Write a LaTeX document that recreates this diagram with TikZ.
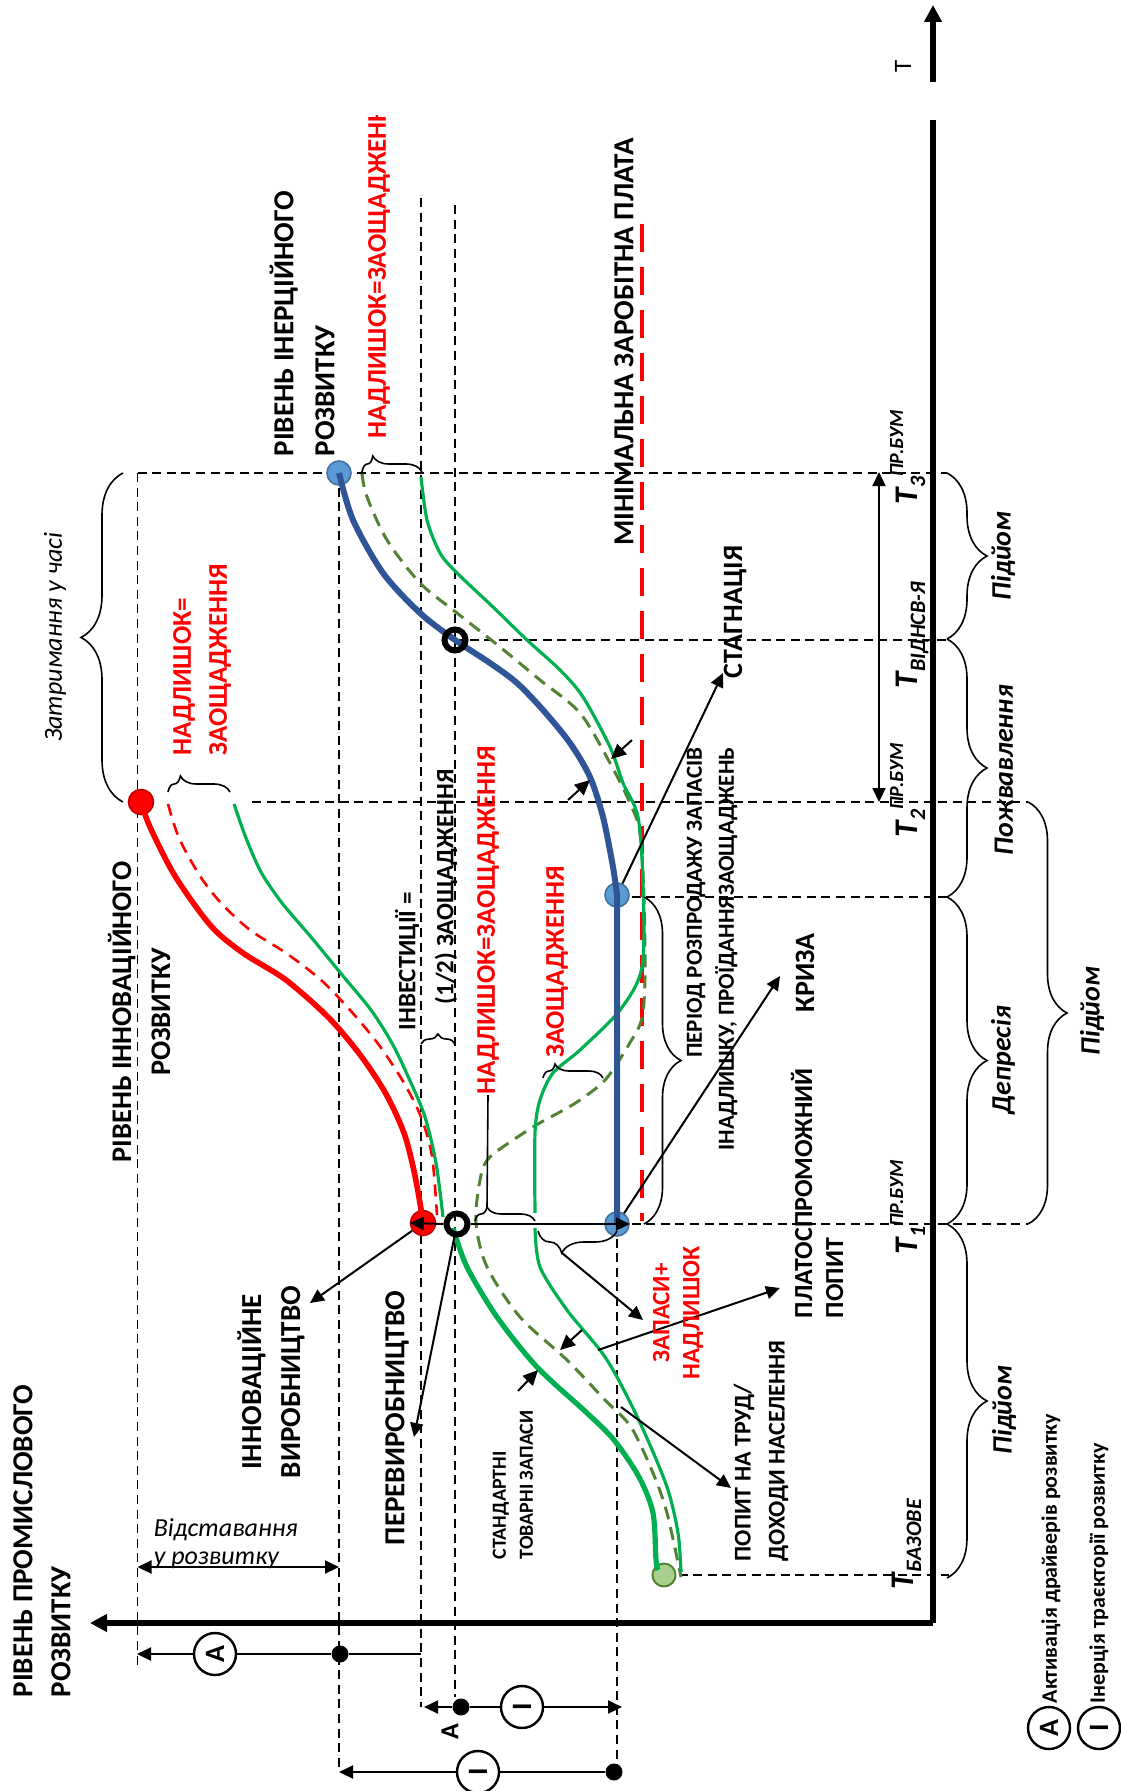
\documentclass[tikz,border=0pt]{standalone}
\usepackage{fontspec}
\setmainfont{Carlito}
\usetikzlibrary{arrows.meta,decorations.pathreplacing}

\definecolor{cRed}{RGB}{255,0,0}
\definecolor{cDarkRed}{RGB}{192,0,0}
\definecolor{cGreen}{RGB}{0,176,80}
\definecolor{cOlive}{RGB}{84,130,53}
\definecolor{cBlue}{RGB}{47,85,151}
\definecolor{cDotBlue}{RGB}{91,155,213}
\definecolor{cDotBlueLine}{RGB}{65,113,156}
\definecolor{cDotGreen}{RGB}{169,209,142}

\newcommand{\Tlab}[2]{\textit{T}\raisebox{-4pt}{\fontsize{11}{11}\selectfont #1}\raisebox{7pt}{\fontsize{10}{10}\selectfont #2}}

\tikzset{every picture/.style={line width=0.75pt}}
\tikzset{
  guide/.style={line width=0.8pt, dash pattern=on 4.5pt off 2.8pt},
  axisline/.style={line width=3pt},
  arr/.style={line width=1pt, -{Triangle[length=7pt,width=6.5pt]}},
  darr/.style={line width=1pt, {Triangle[length=7pt,width=6.5pt]}-{Triangle[length=7pt,width=6.5pt]}},
  smallarr/.style={line width=1pt, -{Triangle[length=7.5pt,width=7pt]}},
  curly/.style={line width=0.8pt, decorate, decoration={brace, amplitude=#1}},
  lbl/.style={inner sep=0pt, rotate=90, font=\bfseries\fontsize{14.5}{19}\selectfont},
  redlbl/.style={lbl, text=cRed, font=\bfseries\fontsize{13.5}{18}\selectfont},
  period/.style={inner sep=0pt, rotate=90, font=\bfseries\itshape\fontsize{14}{17}\selectfont},
  tlabel/.style={inner sep=0pt, rotate=90, anchor=base west, font=\bfseries\itshape\fontsize{16.5}{18}\selectfont},
  reddot/.style={circle, fill=cRed, draw=cDarkRed, line width=0.8pt, minimum size=12.5pt, inner sep=0pt},
  bluedot/.style={circle, fill=cDotBlue, draw=cDotBlueLine, line width=0.8pt, minimum size=12pt, inner sep=0pt},
  greendot/.style={circle, fill=cDotGreen, draw=cOlive, line width=1pt, minimum size=11.5pt, inner sep=0pt},
  ring/.style={circle, draw=black, line width=3pt, minimum size=10.5pt, inner sep=0pt},
  bdot/.style={circle, fill=black, minimum size=8.5pt, inner sep=0pt},
  letcirc/.style={circle, draw, fill=white, line width=1.2pt, minimum size=21pt, inner sep=0pt, rotate=90, font=\bfseries\fontsize{14}{14}\selectfont}
}

\begin{document}
\begin{tikzpicture}[x=0.5pt,y=0.5pt,yscale=-1,xscale=1]
\useasboundingbox (0,0) rectangle (1120,1791);

%Dashed guides
\draw[guide] (137.5,473) -- (947,473);
\draw[guide] (137.5,473) -- (137.5,1667);
\draw[guide] (339,473) -- (339,1772);
\draw[guide] (421,198) -- (421,1707);
\draw[guide] (455,205) -- (455,1697);
\draw[guide] (455,640) -- (947,640);
\draw[guide] (252,802) -- (1028,802);
\draw[guide] (617,897) -- (947,897);
\draw[guide] (617,1224) -- (617,1772);
\draw[guide] (617,1224) -- (1028,1224);
\draw[guide] (664,1575) -- (949,1575);

%Axes
\coordinate (O) at (933,1623);
\draw[axisline, -{Triangle[length=8.5pt,width=8.5pt]}] (O) -- (90,1623);
\draw[axisline] (O) -- (933,120);
\draw[axisline, -{Triangle[length=8.5pt,width=8.5pt]}] (933,82) -- (933,5);

%Minimal wage
\draw[cRed, line width=2.3pt, dash pattern=on 14pt off 7.5pt] (642,224) -- (642,1221);

%Dots
\node[reddot] (inno) at (141,802) {};
\node[reddot] (innoB) at (423,1223) {};
\node[bluedot] (inert) at (339,473) {};
\node[bluedot] (stagn) at (617,895) {};
\node[bluedot] (crisis) at (617,1224) {};
\node[greendot] (base) at (664,1575) {};

%Curves
\draw[cRed, line width=1.3pt, dash pattern=on 6pt off 4pt] plot[smooth] coordinates {(168,804) (179,838) (200,876) (221,903) (250,930) (286,953) (321,980) (350,1010) (379,1045) (404,1083) (421,1117) (432,1156) (437,1215)};
\draw[cGreen, line width=1.6pt] plot[smooth] coordinates {(234,804) (246,838) (261,872) (282,903) (311,937) (343,976) (371,1010) (393,1045) (411,1083) (425,1117) (436,1163) (443,1217)};
\draw[cRed, line width=2.8pt] plot[smooth] coordinates {(inno.center) (150,827) (175,876) (211,926) (243,953) (286,980) (329,1018) (361,1056) (386,1094) (404,1133) (414,1171) (421,1209) (innoB.center)};
\draw[cOlive, line width=1.5pt, dash pattern=on 6.5pt off 4pt] plot[smooth] coordinates {(362,474) (367,497) (387,540) (420,583) (457,613) (500,647) (540,680) (580,713) (610,763) (630,803) (640,833) (644,900) (645,977) (642,1018) (631,1041) (606,1079) (580,1100) (560,1112) (533,1127) (490,1157) (480,1180) (476,1223) (487,1267) (520,1317) (567,1360) (605,1400) (631,1427) (653,1473) (667,1513) (681,1577)};
\draw[cGreen, line width=1.6pt] plot[smooth] coordinates {(421,477) (427,520) (440,553) (457,573) (493,607) (527,640) (560,670) (583,697) (610,747) (623,783) (638,817) (643,883) (642,967) (620,1010) (580,1050) (553,1073) (540,1100) (535,1133) (535,1213)};
\draw[cGreen, line width=1.6pt] plot[smooth] coordinates {(535,1228) (540,1267) (567,1310) (600,1350) (617,1377) (642,1427) (667,1487) (678,1533) (681,1572)};
\draw[cGreen, line width=2.6pt] plot[smooth] coordinates {(453,1228) (467,1267) (497,1317) (537,1367) (587,1413) (614,1440) (639,1477) (653,1513) (656,1560) (658,1570)};
\draw[cBlue, line width=3pt] plot[smooth] coordinates {(inert.center) (353,520) (383,573) (420,613) (455,640) (490,663) (517,683) (543,710) (570,743) (590,777) (603,817) (613,867) (stagn.center)} -- (crisis.center);

%Rings
\node[ring] (cross) at (455,640) {};
\node[ring] (split) at (457,1224) {};

%Braces
\draw[curly=21pt] (123,802) -- (123,473);
\draw[curly=20pt] (947,473) -- (947,639);
\draw[curly=20pt] (947,639) -- (947,897);
\draw[curly=20pt] (947,897) -- (947,1224);
\draw[curly=19.5pt] (1028,802) -- (1028,1224);
\draw[curly=20pt] (947,1224) -- (947,1578);
\draw[curly=18.5pt] (644,897) -- (644,1224);
\draw[curly=8pt, decoration={aspect=0.2}] (168,792) -- (230,792);
\draw[curly=8pt, decoration={aspect=0.18}] (362,472) -- (422,472);
\draw[curly=5pt] (421,1044) -- (455,1044);
\draw[curly=7pt, decoration={aspect=0.2}] (475,1221) -- (535,1221);
\draw[curly=7pt, decoration={aspect=0.2}] (543,1078) -- (603,1078);
\draw[curly=11pt, decoration={aspect=0.7}] (617,1231) -- (538,1231);

%Free ends
\coordinate (innotip) at (310,1303);
\coordinate (overtip) at (414,1437);
\coordinate (stagtip) at (723,673);
\coordinate (crisistip) at (780,976);
\coordinate (paypt) at (598,1350);
\coordinate (paytip) at (780,1288);
\coordinate (laborpt) at (621,1407);
\coordinate (labortip) at (731,1488);
\coordinate (stockpt) at (562,1253);
\coordinate (stocktip) at (643,1320);
\coordinate (surptip) at (487,1207);

%Arrows
\draw[arr] (split.east) -- (crisis.east);
\draw[arr] (split.west) -- (innoB.west);
\draw[arr] (innoB) -- (innotip);
\draw[arr] (split) -- (overtip);
\draw[arr] (stagn) -- (stagtip);
\draw[arr] (crisis) -- (crisistip);
\draw[arr] (paypt) -- (paytip);
\draw[arr] (laborpt) -- (labortip);
\draw[arr] (stockpt) -- (stocktip);
\draw[smallarr] (568,800) -- (590,780);
\draw[smallarr] (632,740) -- (611,759);
\draw[smallarr] (518,1391) -- (538,1370);
\draw[smallarr] (582,1330) -- (560,1350);
\draw[darr] (879,472) -- (879,802);
\draw[darr] (137.5,1567) -- (339,1567);

%Driver lines
\node[bdot] (adot) at (340,1654) {};
\node[letcirc] (acirc) at (215,1654) {A};
\coordinate (ajoin) at (421,1654);
\coordinate (aend) at (137,1654);
\draw[line width=1pt] (ajoin) -- (adot) -- (acirc);
\draw[arr] (acirc) -- (aend);
\node[bdot] (idotA) at (461,1707) {};
\node[letcirc] (icircA) at (522,1707) {I};
\coordinate (iendL) at (424,1707);
\coordinate (iendR) at (622,1707);
\draw[arr] (idotA) -- (iendL);
\draw[line width=1pt] (idotA) -- (icircA);
\draw[arr] (icircA) -- (iendR);
\node[bdot] (idotB) at (614,1772) {};
\node[letcirc] (icircB) at (478,1772) {I};
\coordinate (iendB) at (339,1772);
\draw[line width=1pt] (idotB) -- (icircB);
\draw[arr] (icircB) -- (iendB);
\node[lbl, font=\bfseries\fontsize{13}{13}\selectfont] (lblA) at (450,1732) {A};

% Text Node
\node[lbl, anchor=west, align=left] (lblIndustry) at (42,1698) {РІВЕНЬ ПРОМИСЛОВОГО\\РОЗВИТКУ};
\node[lbl, align=center, font=\bfseries\fontsize{14.2}{19.5}\selectfont] (lblInno) at (139,1012) {РІВЕНЬ ІННОВАЦІЙНОГО\\РОЗВИТКУ};
\node[lbl, anchor=west, align=left, font=\bfseries\fontsize{14.5}{20.5}\selectfont] (lblInert) at (302,457) {РІВЕНЬ ІНЕРЦІЙНОГО\\РОЗВИТКУ};
\node[lbl, align=center, font=\bfseries\fontsize{14.5}{19.5}\selectfont] (lblInnoProd) at (271,1382) {ІННОВАЦІЙНЕ\\ВИРОБНИЦТВО};
\node[lbl] (lblOver) at (397,1418) {ПЕРЕВИРОБНИЦТВО};
\node[lbl, anchor=west, align=left, font=\bfseries\fontsize{10}{13.5}\selectfont] (lblStock) at (513,1560) {СТАНДАРТНІ\\ТОВАРНІ ЗАПАСИ};
\node[lbl, anchor=west, align=left, font=\bfseries\fontsize{12}{17}\selectfont] (lblLabor) at (761,1562) {ПОПИТ НА ТРУД/\\ДОХОДИ НАСЕЛЕННЯ};
\node[redlbl, align=center, font=\bfseries\fontsize{12.5}{15}\selectfont] (lblStockSurp) at (678,1313) {ЗАПАСИ+\\НАДЛИШОК};
\node[lbl, anchor=west, align=left, font=\bfseries\fontsize{13}{15.5}\selectfont] (lblPay) at (817,1319) {ПЛАТОСПРОМОЖНИЙ\\ПОПИТ};
\node[lbl, font=\bfseries\fontsize{14}{16}\selectfont] (lblCrisis) at (805,973) {КРИЗА};
\node[lbl, anchor=east, align=right, font=\bfseries\fontsize{11.5}{16}\selectfont] (lblPeriod) at (712,747) {ПЕРІОД РОЗПРОДАЖУ ЗАПАСІВ\\ІНАДЛИШКУ, ПРОЇДАННЯЗАОЩАДЖЕНЬ};
\node[lbl, font=\bfseries\fontsize{14}{16}\selectfont] (lblStag) at (735,612) {СТАГНАЦІЯ};
\node[lbl, font=\bfseries\fontsize{14.5}{16}\selectfont] (lblWage) at (624,342) {МІНІМАЛЬНА ЗАРОБІТНА ПЛАТА};
\begin{scope}
\clip (300,116) rectangle (460,470);
\node[redlbl, anchor=west] (lblSurpTop) at (379,439) {НАДЛИШОК=ЗАОЩАДЖЕННЯ};
\end{scope}
\node[redlbl, anchor=west, align=left] (lblSurpInno) at (202,756) {НАДЛИШОК=\\ЗАОЩАДЖЕННЯ};
\node[lbl, anchor=west, align=left, font=\bfseries\fontsize{12.5}{19}\selectfont] (lblInvest) at (426,1031) {ІНВЕСТИЦІЇ =\\\hspace*{13pt}(1/2) ЗАОЩАДЖЕННЯ};
\node[redlbl] (lblSurp) at (488,920) {НАДЛИШОК=ЗАОЩАДЖЕННЯ};
\node[redlbl] (lblSave) at (557,962) {ЗАОЩАДЖЕННЯ};
\draw[line width=0.8pt] (surptip) -- (lblSurp.west);
\node[inner sep=0pt, rotate=90, font=\itshape\fontsize{13}{15}\selectfont] (lblDelay) at (55,637) {Затримання у часі};
\node[inner sep=0pt, anchor=west, align=left, font=\itshape\fontsize{13}{14}\selectfont] (lblLag) at (153,1544) {Відставання\\у розвитку};

%Periods
\node[period] (perRise3) at (1003,556) {Підйом};
\node[period] (perRevive) at (1004,770) {Пожвавлення};
\node[period] (perDepr) at (1003,1060) {Депресія};
\node[period] (perRiseBig) at (1092,1011) {Підйом};
\node[period] (perRise1) at (1004,1410) {Підйом};

%Time marks
\node[inner sep=0pt, rotate=90, font=\fontsize{12.5}{14}\selectfont] (lblT) at (903,66) {T};
\node[tlabel] (tThree) at (917,505) {\Tlab{3}{ПР.БУМ}};
\node[tlabel] (tRecov) at (917,689) {\Tlab{ВІДНСВ-Я}{}};
\node[tlabel] (tTwo) at (917,838) {\Tlab{2}{ПР.БУМ}};
\node[tlabel] (tOne) at (917,1255) {\Tlab{1}{ПР.БУМ}};
\node[tlabel] (tBase) at (913,1590) {\Tlab{БАЗОВЕ}{}};

%Legend
\node[letcirc] (legA) at (1049,1728) {A};
\node[letcirc] (legI) at (1099,1728) {I};
\node[lbl, anchor=west, font=\bfseries\fontsize{11}{13}\selectfont] (legAtxt) at (1051,1704) {Активація драйверів розвитку};
\node[lbl, anchor=west, font=\bfseries\fontsize{11}{13}\selectfont] (legItxt) at (1099,1704) {Інерція траєкторії розвитку};

\end{tikzpicture}
\end{document}
